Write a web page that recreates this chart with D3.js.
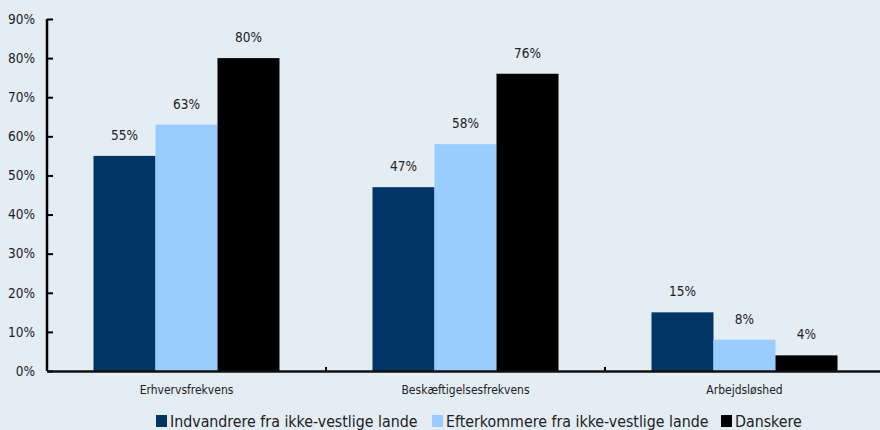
<!DOCTYPE html>
<html><head><meta charset="utf-8">
<script src="https://cdn.jsdelivr.net/npm/d3@7"></script>
<style>body{margin:0;background:#e4ecf4;} svg{display:block;}</style>
</head><body>
<svg id="c" width="880" height="430"></svg>
<script>
const categories = ["Erhvervsfrekvens", "Beskæftigelsesfrekvens", "Arbejdsløshed"];
const seriesNames = ["Indvandrere fra ikke-vestlige lande", "Efterkommere fra ikke-vestlige lande", "Danskere"];
const indvandrere = [55, 47, 15];
const efterkommere = [63, 58, 8];
const danskere = [80, 76, 4];
const yTicks = [0, 10, 20, 30, 40, 50, 60, 70, 80, 90];
const colors = ["#023466", "#99ccff", "#000000"];

const series = [indvandrere, efterkommere, danskere];
const svg = d3.select("#c");
const font = "'DejaVu Sans Condensed', 'DejaVu Sans', sans-serif";
const x0 = d3.scaleBand().domain(categories).range([47, 884]).paddingInner(0).paddingOuter(0);
const x1 = d3.scaleBand().domain(d3.range(series.length)).range([0, x0.bandwidth()]).paddingInner(0).paddingOuter(0.75);
const y = d3.scaleLinear().domain([0, 90]).range([371, 19]);

const g = svg.append("g");
categories.forEach((c, i) => {
  series.forEach((s, j) => {
    g.append("rect").attr("x", x0(c) + x1(j)).attr("y", y(s[i]))
      .attr("width", x1.bandwidth()).attr("height", y(0) - y(s[i])).attr("fill", colors[j]);
    g.append("text").attr("x", x0(c) + x1(j) + x1.bandwidth() / 2).attr("y", y(s[i]) - 16)
      .attr("text-anchor", "middle").attr("font-family", font).attr("font-size", 13.5).attr("fill", "#222")
      .text(s[i] + "%");
  });
});

// y axis
const yAxis = d3.axisRight(y).tickValues(yTicks).tickSize(6).tickFormat(d => d + "%");
const ya = svg.append("g").attr("transform", "translate(47,0)").call(yAxis);
ya.select(".domain").attr("stroke", "#000").attr("stroke-width", 2.5).attr("d", `M0,${y(90)}V${y(0)}`);
ya.selectAll(".tick line").attr("stroke", "#000").attr("stroke-width", 2);
ya.selectAll(".tick text").attr("x", -12).attr("text-anchor", "end").attr("font-family", font)
  .attr("font-size", 13.5).attr("fill", "#222");

// x axis
const xAxis = d3.axisBottom(x0).tickSize(0).tickPadding(14);
const xa = svg.append("g").attr("transform", `translate(0,${y(0)})`).call(xAxis);
xa.select(".domain").attr("stroke", "#111").attr("stroke-width", 2.5);
xa.selectAll(".tick text").attr("font-family", font).attr("font-size", 12).attr("fill", "#222");
// category boundary ticks
xa.selectAll(".sep").data(categories.slice(1)).enter().append("line")
  .attr("x1", d => x0(d)).attr("x2", d => x0(d)).attr("y1", -4).attr("y2", 0)
  .attr("stroke", "#000").attr("stroke-width", 2);

// legend
const legend = svg.append("g");
const legendX = [156, 432, 721];
seriesNames.forEach((n, j) => {
  legend.append("rect").attr("x", legendX[j]).attr("y", 415).attr("width", 11).attr("height", 12).attr("fill", colors[j]);
  legend.append("text").attr("x", legendX[j] + 14).attr("y", 427).attr("font-family", font)
    .attr("font-size", 15.8).attr("fill", "#222").text(n);
});
</script>
</body></html>
